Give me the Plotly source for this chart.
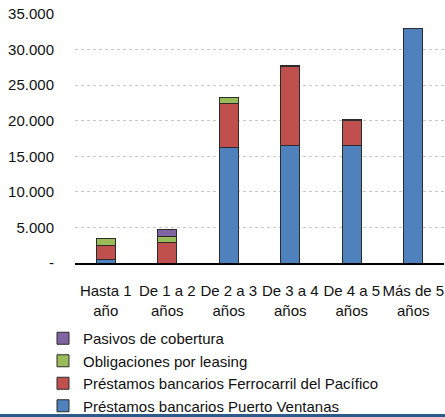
import plotly.graph_objects as go

categories = ["Hasta 1<br>año", "De 1 a 2<br>años", "De 2 a 3<br>años",
              "De 3 a 4<br>años", "De 4 a 5<br>años", "Más de 5<br>años"]
puerto_ventanas = [560, 0, 16300, 16450, 16450, 32900]
ferrocarril = [1910, 2950, 6190, 11240, 3550, 0]
leasing = [1040, 790, 840, 140, 140, 0]
cobertura = [0, 940, 0, 0, 0, 0]

series = [
    ("Préstamos bancarios Puerto Ventanas", puerto_ventanas, "#4F81BD"),
    ("Préstamos bancarios Ferrocarril del Pacífico", ferrocarril, "#C0504D"),
    ("Obligaciones por leasing", leasing, "#9BBB59"),
    ("Pasivos de cobertura", cobertura, "#8064A2"),
]

ytick_vals = [0, 5000, 10000, 15000, 20000, 25000, 30000, 35000]
ytick_text = ["-", "5.000", "10.000", "15.000", "20.000", "25.000", "30.000", "35.000"]

FONT = "Liberation Sans, Arial, sans-serif"
FS = 15

fig = go.Figure()
for name, vals, color in series:
    fig.add_trace(go.Bar(
        x=categories, y=vals, name=name,
        marker=dict(color=color, line=dict(color="#2b2b2b", width=1)),
    ))

W, H = 445, 417
L, R, T, B = 75, 1, 14, 154
pw, ph = W - L - R, H - T - B

fig.update_layout(
    width=W, height=H,
    margin=dict(l=L, r=R, t=T, b=B, pad=0, autoexpand=False),
    barmode="stack",
    bargap=0.69,
    plot_bgcolor="white",
    paper_bgcolor="white",
    font=dict(family=FONT, size=FS, color="#111111"),
    showlegend=True,
    legend=dict(
        traceorder="reversed",
        orientation="v",
        xref="container", yref="container",
        x=43 / W, xanchor="left",
        y=1 - 322 / H, yanchor="top",
        font=dict(family=FONT, size=FS, color="#111111"),
        bgcolor="rgba(0,0,0,0)",
        itemwidth=30,
        tracegroupgap=0,
    ),
    xaxis=dict(
        showline=True, linecolor="black", linewidth=2,
        showgrid=False, ticks="", tickfont=dict(size=FS), automargin=False,
        tickangle=0, ticklabelstandoff=13,
    ),
    yaxis=dict(
        range=[0, 35000],
        tickvals=ytick_vals, ticktext=ytick_text,
        showgrid=True, gridcolor="#c8c8c8", griddash="dot", gridwidth=1,
        zeroline=False, showline=False, ticks="",
        ticklabelstandoff=20, automargin=False,
        tickfont=dict(size=FS),
    ),
    shapes=[dict(
        type="rect", xref="paper", yref="paper",
        x0=-L / pw, x1=1 + R / pw,
        y0=-(B) / ph, y1=-(B - 3) / ph,
        fillcolor="#2C5A8A", line=dict(width=0), layer="above",
    )],
)

fig.write_html("out.html")
